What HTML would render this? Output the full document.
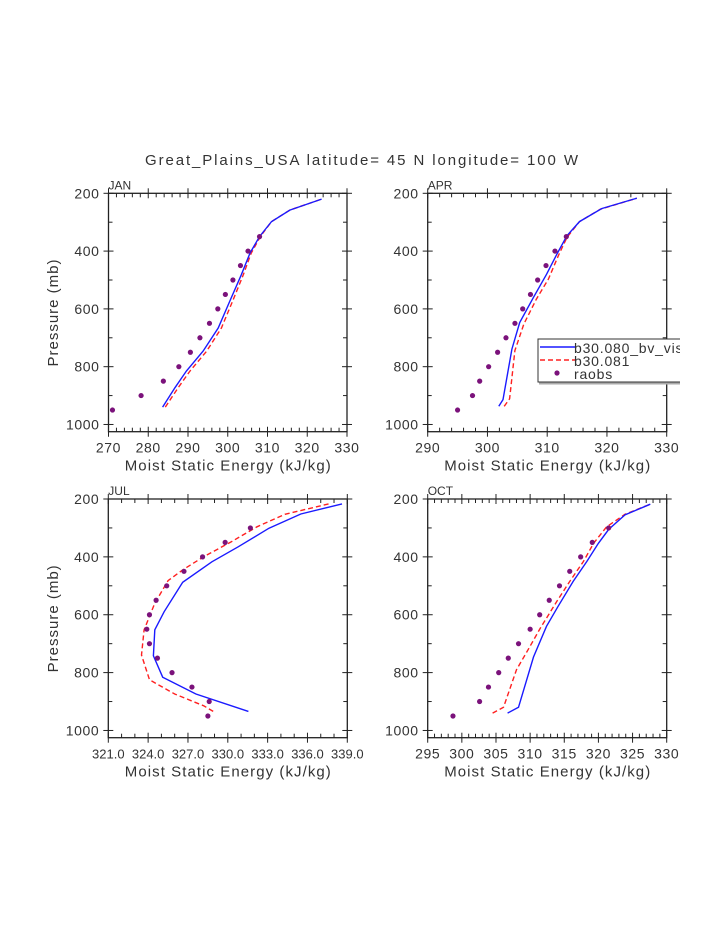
<!DOCTYPE html>
<html><head><meta charset="utf-8"><style>
html,body{margin:0;padding:0;background:#fff;}
svg{display:block;font-family:"Liberation Sans",sans-serif;}
</style></head><body>
<svg id="chart" width="723" height="935" viewBox="0 0 723 935" xmlns="http://www.w3.org/2000/svg">
<defs><clipPath id="legclip"><rect x="0" y="0" width="680" height="935"/></clipPath></defs>
<text x="145" y="165" textLength="433" lengthAdjust="spacing" font-size="15" fill="#333">Great_Plains_USA  latitude= 45 N longitude= 100 W</text>
</svg>
<script>
// ---- data ----
const janBlueP=[940,873,815,746,666,574,482,407,350,298,258,220];
const janBlueX=[283.6,286.7,289.6,293.8,297.6,300.5,303.4,305.6,308,311,315.6,323.6];
const janRedP=[940,873,815,746,666,574,482,407,350,298,258,220];
const janRedX=[284.3,287.5,290.5,294.7,298.4,301.2,303.9,305.9,308.2,311,315.6,323.6];
const janObsP=[950,900,850,800,750,700,650,600,550,500,450,400,350];
const janObsX=[271,278.2,283.8,287.7,290.6,293,295.4,297.5,299.4,301.3,303.2,305.1,308];

const aprBlueP=[937,914,739,647,560,480,411,347,298,253,217];
const aprBlueX=[301.9,302.6,304.1,305.4,307.7,309.9,311.6,313.3,315.4,319.1,325];
const aprRedP=[937,911,744,652,566,497,414,353,298,255,217];
const aprRedX=[302.8,303.7,304.6,306.1,308.2,310.2,311.9,313.3,315.4,318.9,325];
const aprObsP=[950,900,850,800,750,700,650,600,550,500,450,400,350];
const aprObsX=[295,297.5,298.7,300.2,301.7,303.1,304.6,305.9,307.2,308.4,309.8,311.3,313.2];

const julBlueP=[934,874,816,742,652,590,488,417,365,301,252,217];
const julBlueX=[331.55,327.6,325.1,324.4,324.5,325.2,326.6,328.8,330.8,333.1,335.5,338.6];
const julRedP=[934,915,874,825,739,652,560,482,445,399,347,296,253,217];
const julRedX=[328.9,328.2,326,324.1,323.5,323.7,324.5,325.5,326.6,328.2,330.3,332.2,334.3,337.6];
const julObsP=[950,900,850,800,750,700,650,600,550,500,450,400,350,300];
const julObsX=[328.5,328.6,327.3,325.8,324.7,324.1,323.9,324.1,324.6,325.4,326.7,328.1,329.8,331.7];

const octBlueP=[940,920,746,640,571,485,416,353,305,255,218];
const octBlueX=[306.7,308.3,310.5,312.4,314.1,316.3,318.3,320,321.5,323.9,327.6];
const octRedP=[940,920,790,721,646,554,485,416,353,296,253,218];
const octRedX=[304.5,306.1,308,309.7,311.5,313.9,315.8,317.8,319.3,321.2,323.9,327.6];
const octObsP=[950,900,850,800,750,700,650,600,550,500,450,400,350,300];
const octObsX=[298.7,302.6,303.9,305.4,306.8,308.3,310,311.4,312.8,314.3,315.8,317.4,319.1,321.5];

const janTicks=[270,280,290,300,310,320,330];
const aprTicks=[290,300,310,320,330];
const julTicks=[321,324,327,330,333,336,339];
const octTicks=[295,300,305,310,315,320,325,330];
const pTicks=[200,400,600,800,1000];

const NS="http://www.w3.org/2000/svg";
const svg=document.getElementById('chart');
function mk(tag,attrs,parent){const e=document.createElementNS(NS,tag);for(const k in attrs)e.setAttribute(k,attrs[k]);(parent||svg).appendChild(e);return e;}

function panel(cfg){
  const {name,x0,x1,y0,y1,xmin,xmax,ticks,minorStep,dec,title,yLabel}=cfg;
  const g=mk('g',{});
  
  
  const pmin=200,pmax=1025;
  const sx=v=>x0+(v-xmin)/(xmax-xmin)*(x1-x0);
  const sy=p=>y0+(p-pmin)/(pmax-pmin)*(y1-y0);
  const box=mk('rect',{x:x0,y:y0,width:x1-x0,height:y1-y0,fill:'none',stroke:'#222','stroke-width':1.3},g);
  
  
  for(let v=xmin;v<=xmax+1e-6;v+=minorStep){
    const X=sx(v);
    const major=ticks.some(t=>Math.abs(t-v)<1e-6);
    const L=major?5:4;
    mk('line',{x1:X,y1:y1-L,x2:X,y2:y1+(major?5:0),stroke:'#222','stroke-width':1},g);
    mk('line',{x1:X,y1:y0+L,x2:X,y2:y0-(major?5:0),stroke:'#222','stroke-width':1},g);
  }
  ticks.forEach(t=>{
    const tx=mk('text',{x:sx(t),y:y1+21,'text-anchor':'middle','font-size':dec?13:14,'letter-spacing':dec?0:0.6,fill:'#333'},g);
    tx.textContent=t.toFixed(dec);
    
    
  });
  for(let p=200;p<=1000;p+=100){
    const Y=sy(p);const major=p%200===0;const L=major?5:4;
    mk('line',{x1:x0-(major?5:0),y1:Y,x2:x0+L,y2:Y,stroke:'#222','stroke-width':1},g);
    mk('line',{x1:x1+(major?5:0),y1:Y,x2:x1-L,y2:Y,stroke:'#222','stroke-width':1},g);
  }
  pTicks.forEach(p=>{
    const tx=mk('text',{x:x0-9,y:sy(p)+5,'text-anchor':'end','font-size':14,'letter-spacing':0.6,fill:'#333'},g);
    tx.textContent=p;
    
    
  });
  const tt=mk('text',{x:x0,y:y0-4,'font-size':12,fill:'#333'},g);
  tt.textContent=title;
  
  
  const xl=mk('text',{x:(x0+x1)/2-103,y:y1+39,textLength:206,lengthAdjust:'spacing','font-size':15,fill:'#333'},g);
  xl.textContent='Moist Static Energy (kJ/kg)';
  
  
  if(yLabel){
    const cy=(y0+y1)/2;
    const yl=mk('text',{x:58,y:cy,'text-anchor':'middle','font-size':15,'letter-spacing':1,fill:'#333',transform:'rotate(-90 58 '+cy+')'},g);
    yl.textContent='Pressure (mb)';
    
    
  }
  const line=(xs,ps,color,dash,nm)=>{
    const d=xs.map((v,i)=>(i?'L':'M')+sx(v).toFixed(1)+' '+sy(ps[i]).toFixed(1)).join(' ');
    const e=mk('path',{d:d,fill:'none',stroke:color,'stroke-width':1.4},g);
    if(dash)e.setAttribute('stroke-dasharray','5 3');
    
    
  };
  line(cfg.redX,cfg.redP,'#ff2020',true,name+'-b30-081-line');
  line(cfg.blueX,cfg.blueP,'#1a1aff',false,name+'-b30-080-line');
  cfg.obsX.forEach((v,i)=>{
    const c=mk('circle',{cx:sx(v),cy:sy(cfg.obsP[i]),r:2.6,fill:'#7b127b'},g);
    
    
  });
}
panel({name:'jan',x0:108.5,x1:347,y0:193.3,y1:431.7,xmin:270,xmax:330,ticks:janTicks,minorStep:2,dec:0,title:'JAN',yLabel:true,
  blueX:janBlueX,blueP:janBlueP,redX:janRedX,redP:janRedP,obsX:janObsX,obsP:janObsP});
panel({name:'apr',x0:427.7,x1:666.7,y0:193.3,y1:431.7,xmin:290,xmax:330,ticks:aprTicks,minorStep:2,dec:0,title:'APR',yLabel:false,
  blueX:aprBlueX,blueP:aprBlueP,redX:aprRedX,redP:aprRedP,obsX:aprObsX,obsP:aprObsP});
panel({name:'jul',x0:108.3,x1:347.3,y0:499,y1:737.7,xmin:321,xmax:339,ticks:julTicks,minorStep:1,dec:1,title:'JUL',yLabel:true,
  blueX:julBlueX,blueP:julBlueP,redX:julRedX,redP:julRedP,obsX:julObsX,obsP:julObsP});
panel({name:'oct',x0:427.7,x1:666.7,y0:499,y1:737.7,xmin:295,xmax:330,ticks:octTicks,minorStep:1,dec:0,title:'OCT',yLabel:false,
  blueX:octBlueX,blueP:octBlueP,redX:octRedX,redP:octRedP,obsX:octObsX,obsP:octObsP});

// legend
const lg=mk('g',{'clip-path':'url(#legclip)'});


mk('rect',{x:538,y:339,width:200,height:43,fill:'#fff',stroke:'#333','stroke-width':1},lg);
mk('line',{x1:539,y1:383.5,x2:723,y2:383.5,stroke:'#aaa','stroke-width':2},lg);
const entries=[['b30.080_bv_visc','#1a1aff',false,348],['b30.081','#ff2020',true,361],['raobs','#7b127b',null,374]];
entries.forEach(en=>{
  const eg=mk('g',{},lg);
  
  
  if(en[2]===null){mk('circle',{cx:557,cy:en[3]-1,r:2.6,fill:en[1]},eg);}
  else{const l=mk('line',{x1:540,y1:en[3]-1,x2:575,y2:en[3]-1,stroke:en[1],'stroke-width':1.4},eg);if(en[2])l.setAttribute('stroke-dasharray','5 3');}
  const t=mk('text',{x:574,y:en[3]+5,'font-size':14,'letter-spacing':0.8,fill:'#333'},eg);
  t.textContent=en[0];
});
</script>
</body></html>
